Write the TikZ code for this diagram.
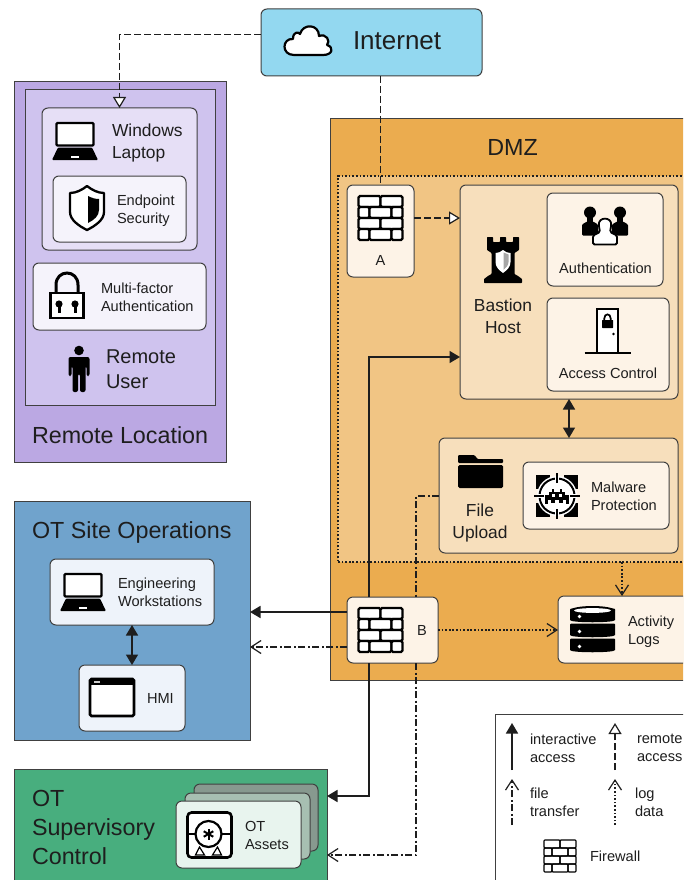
\documentclass[tikz,border=0pt]{standalone}
\usepackage{fontspec}
\setmainfont{Liberation Sans}
\usetikzlibrary{arrows.meta,calc}
\definecolor{ink}{HTML}{1E1E1E}
\definecolor{edge}{HTML}{404040}
\definecolor{cnet}{HTML}{93D8F0}
\definecolor{cremo}{HTML}{BBA8E3}
\definecolor{cremi}{HTML}{CFC3EE}
\definecolor{cremb}{HTML}{E6DFF6}
\definecolor{cremc}{HTML}{F5F3FB}
\definecolor{cdmz}{HTML}{EBAC4F}
\definecolor{czone}{HTML}{F1C584}
\definecolor{cpanel}{HTML}{F7DFBC}
\definecolor{ccard}{HTML}{FDF3E7}
\definecolor{csite}{HTML}{70A3CC}
\definecolor{csitec}{HTML}{EEF3FA}
\definecolor{csup}{HTML}{48AE7E}
\definecolor{casa}{HTML}{E8F4EE}
\definecolor{casb}{HTML}{A7BFB2}
\definecolor{casc}{HTML}{87998F}
\newcommand\boxn[6]{\node[#6,minimum width={(#4-#2)*1pt},minimum height={(#5-#3)*1pt}] (#1) at ({(#2+#4)/2},{(#3+#5)/2}) {};}
\tikzset{
  x=1pt,y=-1pt,
  plate/.style={draw=edge,line width=1pt,inner sep=0pt,outer sep=0pt},
  card/.style={plate,rounded corners=6pt},
  lab/.style={text=ink,inner sep=0pt,outer sep=0pt,anchor=west,align=left},
  labc/.style={text=ink,inner sep=0pt,outer sep=0pt,anchor=center,align=center},
  fxl/.style={font=\fontsize{26}{30}\selectfont},
  ftt/.style={font=\fontsize{23.3}{29}\selectfont},
  frem/.style={font=\fontsize{20}{25}\selectfont},
  fmd/.style={font=\fontsize{17.4}{22}\selectfont},
  fsm/.style={font=\fontsize{14.6}{18}\selectfont},
  interact/.style={draw=ink,line width=1.6pt,-{Triangle[length=10.5pt,width=12pt]}},
  interboth/.style={draw=ink,line width=1.6pt,{Triangle[length=10.5pt,width=12pt]}-{Triangle[length=10.5pt,width=12pt]}},
  remote/.style={draw=ink,line width=1.3pt,dash pattern=on 7pt off 3pt,-{Triangle[open,fill=white,length=11pt,width=13pt,line width=1.2pt,sep=0pt]}},
  filetr/.style={draw=ink,line width=1.1pt,dash pattern=on 7pt off 2.5pt on 2pt off 2.5pt,-{Straight Barb[length=10pt,width=13pt,line width=1.2pt]}},
  logd/.style={draw=ink,line width=1.3pt,dash pattern=on 1.7pt off 1.9pt,-{Straight Barb[length=10pt,width=13pt,line width=1.2pt]}},
  pics/firewall/.style={code={
    \begin{scope}[line width=2.3pt,draw=black,fill=white,rounded corners=1.5pt]
      \filldraw (-22,-22) rectangle (0,-11); \filldraw (0,-22) rectangle (22,-11);
      \filldraw (-22,-11) rectangle (-11,0); \filldraw (-11,-11) rectangle (11,0); \filldraw (11,-11) rectangle (22,0);
      \filldraw (-22,0) rectangle (0,11); \filldraw (0,0) rectangle (22,11);
      \filldraw (-22,11) rectangle (-11,22); \filldraw (-11,11) rectangle (11,22); \filldraw (11,11) rectangle (22,22);
    \end{scope}}},
  pics/laptop/.style={code={
    \draw[black,fill=white,line width=2.2pt,rounded corners=1pt] (-18.5,-18) rectangle (18.5,4.5);
    \fill[black,rounded corners=1pt] (-17,6.5)--(17,6.5)--(23,19)--(-23,19)--cycle;
    \fill[white] (-4,14.5) rectangle (4,17);}},
  pics/shield/.style={code={
    \draw[black,fill=white,line width=2.3pt,line join=round] (0,-22) .. controls (-5,-18) and (-11,-15) .. (-17,-15) -- (-17,4) .. controls (-17,12) and (-8,18) .. (0,22) .. controls (8,18) and (17,12) .. (17,4) -- (17,-15) .. controls (11,-15) and (5,-18) .. (0,-22) -- cycle;
    \fill[black] (1,-12) .. controls (5,-10) and (8,-9) .. (12,-9) -- (12,2) .. controls (12,8) and (7,12) .. (1,15) -- cycle;}},
  pics/padlock/.style={code={
    \draw[black,line width=3pt] (-11,-3) -- (-11,-11) .. controls (-11,-27) and (11,-27) .. (11,-11) -- (11,-3);
    \draw[black,fill=white,line width=2.4pt] (-16.5,-3) rectangle (16.5,22);
    \foreach \k in {-8,8}{\fill[black] (\k,8) circle (3.6); \fill[black] (\k-1.5,8) rectangle (\k+1.5,17);}}},
  pics/person/.style={code={
    \fill[black] (0,-18.5) circle (4.8);
    \fill[black,rounded corners=2pt] (-10.5,-12) -- (10.5,-12) -- (10.5,7) -- (7.5,7) -- (7.5,-3) -- (6.5,-3) -- (6.5,23) -- (1,23) -- (1,5) -- (-1,5) -- (-1,23) -- (-6.5,23) -- (-6.5,-3) -- (-7.5,-3) -- (-7.5,7) -- (-10.5,7) -- cycle;}},
  pics/tower/.style={code={
    \fill[black,rounded corners=0.6pt] (-16,-23)--(-10,-23)--(-10,-18)--(-3,-18)--(-3,-23)--(3,-23)--(3,-18)--(10,-18)--(10,-23)--(16,-23)--(16,-10)--(11.5,-7)--(11.5,14)--(15,16)--(19,19)--(19,23)--(-19,23)--(-19,19)--(-15,16)--(-11.5,14)--(-11.5,-7)--(-16,-10)--cycle;
    \fill[white] (0,-10) .. controls (-2,-8) and (-5,-7) .. (-7.5,-7) -- (-7.5,2) .. controls (-7.5,7) and (-4,10) .. (0,13) .. controls (4,10) and (7.5,7) .. (7.5,2) -- (7.5,-7) .. controls (5,-7) and (2,-8) .. (0,-10) -- cycle;
    \fill[black!35] (0.5,-7.5) -- (5.5,-5.5) -- (5.5,2) .. controls (5.5,5) and (3,8) .. (0.5,10) -- cycle;}},
  pics/users/.style={code={
    \foreach \s in {-1,1}{
      \fill[black] (\s*15,-14) circle (6);
      \fill[black] (\s*15-3,-12) rectangle (\s*15+3,-3);
      \fill[black,rounded corners=1pt] (\s*15-8,9) -- (\s*15-8,-2) -- (\s*15-3,-5) -- (\s*15+3,-5) -- (\s*15+8,-2) -- (\s*15+8,9) -- cycle;}
    \filldraw[draw=black,fill=white,line width=1.8pt,rounded corners=1.5pt] (-12,18) -- (-12,9) -- (-5,5.5) -- (-6,0) .. controls (-7,-10) and (7,-10) .. (6,0) -- (5,5.5) -- (12,9) -- (12,18) -- cycle;}},
  pics/door/.style={code={
    \draw[black,fill=white,line width=1.6pt] (-10.5,22) -- (-10.5,-22) -- (10.5,-22) -- (10.5,22);
    \draw[black,line width=1.7pt] (-23,22) -- (23,22);
    \draw[black,line width=1.7pt] (-3.2,-10) -- (-3.2,-12.5) .. controls (-3.2,-18) and (3.2,-18) .. (3.2,-12.5) -- (3.2,-10);
    \fill[black,rounded corners=0.5pt] (-5.5,-11) rectangle (5.5,-3);
    \fill[black] (6,3) circle (1.4);}},
  pics/folder/.style={code={
    \fill[black,rounded corners=1pt] (-22.5,-16.5) -- (-6,-16.5) -- (-3,-12.5) -- (22.5,-12.5) -- (22.5,-8.5) -- (-22.5,-8.5) -- cycle;
    \fill[black,rounded corners=1.5pt] (-22.5,-6.5) rectangle (22.5,16.5);}},
  pics/malware/.style={code={
    \fill[black] (-21,-21) rectangle (-7,-7); \fill[black] (7,-21) rectangle (21,-7);
    \fill[black] (-21,7) rectangle (-7,21); \fill[black] (7,7) rectangle (21,21);
    \fill[white] (0,0) circle (20);
    \draw[black,line width=2pt] (0,0) circle (17.5);
    \fill[white] (0,0) circle (16);
    \foreach \a in {0,90,180,270}{
      \draw[white,line width=4pt,rotate=\a] (14,0) -- (19,0);
      \draw[black,line width=1.6pt,rotate=\a] (13,0) -- (23,0);}
    \fill[black] (-12,-1) rectangle (12,4); \fill[black] (-8,-4) rectangle (8,-1);
    \fill[black] (-5,-7) rectangle (-3,-4); \fill[black] (3,-7) rectangle (5,-4);
    \fill[black] (-12,4) rectangle (-9,8); \fill[black] (9,4) rectangle (12,8);
    \fill[black] (-6,4) rectangle (-2,7); \fill[black] (2,4) rectangle (6,7);
    \fill[white] (-5,-2) rectangle (-2,0.5); \fill[white] (2,-2) rectangle (5,0.5);}},
  pics/database/.style={code={
    \foreach \o in {-15,0,15}{
      \fill[black,rounded corners=1pt] (-22.5,\o-6) -- (22.5,\o-6) -- (22.5,\o+4.5) .. controls (22.5,\o+8.5) and (-22.5,\o+8.5) .. (-22.5,\o+4.5) -- cycle;
      \fill[white] (-13,\o+2) circle (1.8);}
    \fill[black] (0,-19) ellipse (22.5 and 4.5);
    \fill[white] (0,-19) ellipse (18.5 and 2.4);}},
  pics/hmi/.style={code={
    \draw[black,fill=white,line width=2.6pt,rounded corners=1.5pt] (-22,-19) rectangle (22,18);
    \fill[black] (-22,-19) rectangle (22,-13);
    \fill[white!80!black] (-18,-17) rectangle (-12,-15);}},
  pics/motor/.style={code={
    \draw[black,fill=white,line width=2.6pt,rounded corners=4pt] (-22,-22.5) rectangle (22,22.5);
    \draw[black,line width=1.2pt] (-21,-1) -- (21,-1);
    \draw[black,line width=1.2pt] (-14,20) -- (-10,12) -- (-5,20) -- cycle;
    \draw[black,line width=1.2pt] (12,20) -- (8,12) -- (3,20) -- cycle;
    \draw[black,fill=white,line width=2.2pt] (-1,-1) circle (13);
    \foreach \a in {0,60,120}{\draw[black,line width=2pt,rotate around={\a+90:(-1,-1)}] (-6.5,-1) -- (4.5,-1);}}},
  pics/cloud/.style={code={
    \draw[black,fill=white,line width=2.2pt,line join=round] (-14,14) .. controls (-27,14) and (-26,-3) .. (-15,-2) .. controls (-15,-10) and (-9,-9) .. (-8,-7) .. controls (-5,-18) and (11,-17) .. (11,-5) .. controls (18,-8) and (23,0) .. (19,4) .. controls (26,6) and (25,14) .. (15,14) -- cycle;}}
}
\begin{document}
\begin{tikzpicture}
\clip (0,0) rectangle (683,880);
\fill[white] (0,0) rectangle (683,880);

% containers
\boxn{internet}{261}{9}{482}{76}{card,fill=cnet}
\boxn{remoteloc}{14}{82}{226}{462}{plate,fill=cremo}
\boxn{remoteinner}{25}{90}{215}{405}{plate,fill=cremi}
\boxn{dmz}{330}{119}{720}{680}{plate,fill=cdmz}
\boxn{zone}{338}{176}{720}{562}{plate,fill=czone,draw=ink,line width=1.3pt,dash pattern=on 1.7pt off 1.9pt}
\boxn{otsite}{14}{501}{250}{740}{plate,fill=csite}
\boxn{otsup}{14}{769}{327}{920}{plate,fill=csup}
\boxn{legend}{495}{714}{720}{920}{plate,fill=white}

% remote location
\boxn{laptopbox}{42}{108}{197}{250}{card,fill=cremb}
\boxn{endpoint}{53}{176}{186}{242}{card,fill=cremc}
\boxn{mfa}{33}{263}{206}{330}{card,fill=cremc}

% DMZ
\boxn{fwa}{347}{185}{414}{277}{card,fill=ccard}
\boxn{bastion}{460}{185}{678}{399}{card,fill=cpanel}
\boxn{auth}{547}{193}{663}{286}{card,fill=ccard}
\boxn{access}{547}{298}{669}{391}{card,fill=ccard}
\boxn{upload}{439}{438}{678}{553}{card,fill=cpanel}
\boxn{malware}{523}{462}{669}{529}{card,fill=ccard}
\boxn{fwb}{347}{597}{438}{663}{card,fill=ccard}
\boxn{logs}{558}{596}{720}{663}{card,fill=ccard}

% OT
\boxn{workst}{50}{559}{214}{625}{card,fill=csitec}
\boxn{hmi}{79}{665}{185}{731}{card,fill=csitec}
\boxn{assetc}{194}{784}{318}{851}{card,fill=casc}
\boxn{assetb}{185}{793}{310}{859}{card,fill=casb}
\boxn{asseta}{176}{801}{301}{868}{card,fill=casa}

% routing coordinates
\coordinate (fwaicon) at (380.5,218);
\coordinate (fwbicon) at (380.5,630);
\coordinate (iline) at (369,357);
\coordinate (isup) at (369,796);
\coordinate (fup) at (416,496);
\coordinate (fdown) at (416,855);
\coordinate (sitei) at (300,612);
\coordinate (sitef) at (300,647);
\coordinate (logx) at (622,570);

% connectors
\draw[remote] ([yshift=8pt]internet.west) -| (laptopbox.north);
\draw[remote,-] (internet.south -| fwa.north) -- (fwa.north);
\draw[remote] (fwaicon -| fwa.east) -- (fwaicon -| bastion.west);
\draw[interact] (iline |- fwb.north) -- (iline) -- (iline -| bastion.west);
\draw[interact] (iline |- fwb.south) -- (isup) -- (isup -| otsup.east);
\draw[interact] (sitei -| fwb.west) -- (sitei -| otsite.east);
\draw[filetr] (sitef -| fwb.west) -- (sitef -| otsite.east);
\draw[filetr,-] (fup -| upload.west) -- (fup) -- (fup |- fwb.north);
\draw[filetr] (fdown |- fwb.south) -- (fdown) -- (fdown -| otsup.east);
\draw[logd] (fwb.east) -- (fwb.east -| logs.west);
\draw[logd] (logx |- zone.south) -- (logx |- logs.north);
\draw[interboth] (bastion.south) -- (bastion.south |- upload.north);
\draw[interboth] (workst.south) -- (hmi.north);

% icons
\pic at (308,41) {cloud};
\pic at (75,141) {laptop};
\pic at (87,208) {shield};
\pic at (67,296) {padlock};
\pic at (79,369) {person};
\pic at (fwaicon) {firewall};
\pic at (fwbicon) {firewall};
\pic at (503,260) {tower};
\pic at (605,226.5) {users};
\pic at (607.5,331) {door};
\pic at (480.5,471.5) {folder};
\pic at (557,496) {malware};
\pic at (592.5,629.5) {database};
\pic at (83,592) {laptop};
\pic at (112,698) {hmi};
\pic at (209.5,835) {motor};

% texts
\node[lab,fxl] (tinternet) at (353,41) {Internet};
\node[lab,fmd] (tlaptop) at (112,143.5) {Windows\\Laptop};
\node[lab,fsm] (tendpoint) at (117,211) {Endpoint\\Security};
\node[lab,fsm] (tmfa) at (101,297) {Multi-factor\\Authentication};
\node[lab,frem] (truser) at (106,369.5) {Remote\\User};
\node[lab,ftt] (trloc) at (32,435) {Remote Location};
\node[labc,ftt] (tdmz) at (512.5,147) {DMZ};
\node[labc,fsm] (ta) at (380.5,260) {A};
\node[labc,fmd] (tbastion) at (503,316) {Bastion\\Host};
\node[labc,fsm] (tauth) at (605.5,268) {Authentication};
\node[labc,fsm] (taccess) at (608,373) {Access Control};
\node[labc,fmd] (tupload) at (480,523) {File\\Upload};
\node[lab,fsm] (tmalware) at (591,496) {Malware\\Protection};
\node[lab,fsm] (tb) at (417,630) {B};
\node[lab,fsm] (tlogs) at (628,631.5) {Activity\\Logs};
\node[lab,ftt] (tsite) at (32,532) {OT Site Operations};
\node[lab,fsm] (twork) at (118,592) {Engineering\\Workstations};
\node[lab,fsm] (thmi) at (147,698) {HMI};
\node[lab,ftt] (tsup) at (32,827) {OT\\Supervisory\\Control};
\node[lab,fsm] (tassets) at (245,835) {OT\\Assets};

% legend
\coordinate (lgab) at (512,770); \coordinate (lgat) at (512,723);
\coordinate (lgbb) at (615,770); \coordinate (lgbt) at (615,723);
\coordinate (lgcb) at (512,825); \coordinate (lgct) at (512,779);
\coordinate (lgdb) at (615,825); \coordinate (lgdt) at (615,779);
\draw[interact] (lgab) -- (lgat);
\draw[remote] (lgbb) -- (lgbt);
\draw[filetr] (lgcb) -- (lgct);
\draw[logd] (lgdb) -- (lgdt);
\node[lab,fsm] (tla) at (530,748) {interactive\\access};
\node[lab,fsm] (tlb) at (637,748) {remote\\access};
\node[lab,fsm] (tlc) at (530,802) {file\\transfer};
\node[lab,fsm] (tld) at (635,802) {log\\data};
\begin{scope}[shift={(560,856)},scale=0.73]
\begin{scope}[line width=1.2pt,draw=black,rounded corners=1pt]
  \draw (-22,-22) rectangle (0,-11); \draw (0,-22) rectangle (22,-11);
  \draw (-22,-11) rectangle (-11,0); \draw (-11,-11) rectangle (11,0); \draw (11,-11) rectangle (22,0);
  \draw (-22,0) rectangle (0,11); \draw (0,0) rectangle (22,11);
  \draw (-22,11) rectangle (-11,22); \draw (-11,11) rectangle (11,22); \draw (11,11) rectangle (22,22);
\end{scope}
\end{scope}
\node[lab,fsm] (tlf) at (590,856) {Firewall};
\end{tikzpicture}
\end{document}
